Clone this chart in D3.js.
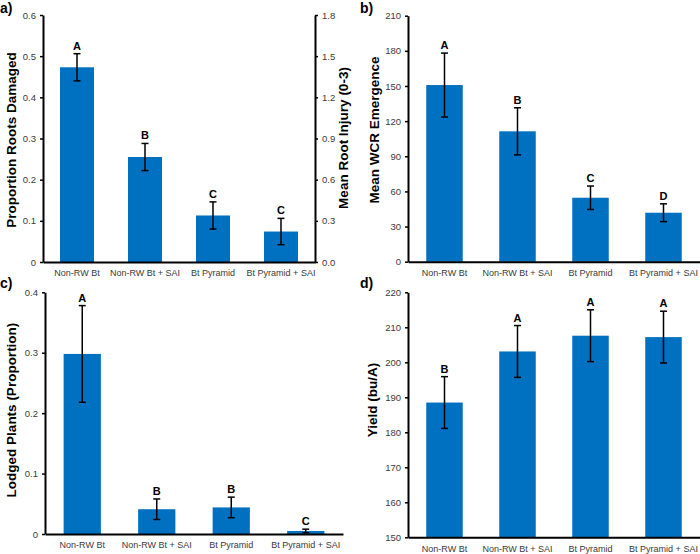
<!DOCTYPE html>
<html>
<head>
<meta charset="utf-8">
<script src="https://cdn.jsdelivr.net/npm/d3@7"></script>
<style>
  html, body { margin: 0; padding: 0; background: #fff; }
  svg { display: block; }
  text { font-family: "Liberation Sans", Arial, Helvetica, sans-serif; }
</style>
</head>
<body>
<svg id="chart" width="700" height="554"></svg>
<script>
// ---- Data ----
const categories = ["Non-RW Bt", "Non-RW Bt + SAI", "Bt Pyramid", "Bt Pyramid + SAI"];

const rootsDamaged = [0.473, 0.255, 0.113, 0.074];
const rootsDamagedErr = [0.033, 0.033, 0.033, 0.032];
const rootsLetters = ["A", "B", "C", "C"];
const rootsTicks = [0, 0.1, 0.2, 0.3, 0.4, 0.5, 0.6];
const injuryTicks = [0, 0.3, 0.6, 0.9, 1.2, 1.5, 1.8];

const emergence = [150.8, 111.3, 54.6, 41.8];
const emergenceErr = [27.3, 20.1, 10.0, 7.6];
const emergenceLetters = ["A", "B", "C", "D"];
const emergenceTicks = [0, 30, 60, 90, 120, 150, 180, 210];

const lodged = [0.298, 0.041, 0.044, 0.005];
const lodgedErr = [0.080, 0.017, 0.017, 0.003];
const lodgedLetters = ["A", "B", "B", "C"];
const lodgedTicks = [0, 0.1, 0.2, 0.3, 0.4];

const yieldVals = [188.5, 203.1, 207.6, 207.2];
const yieldErr = [7.4, 7.4, 7.4, 7.4];
const yieldLetters = ["B", "A", "A", "A"];
const yieldTicks = [150, 160, 170, 180, 190, 200, 210, 220];

// ---- Drawing ----
const svg = d3.select("#chart");
const BAR = "#0070C0";
const TICKCOL = "#3a3a3a";
const FONT = "Liberation Sans, Arial, sans-serif";

function panel(cfg) {
  const g = svg.append("g");
  const x = d3.scaleBand().domain(categories).range([cfg.x0, cfg.x1])
    .paddingInner(0.5).paddingOuter(0.25);
  const y = d3.scaleLinear().domain(cfg.domain).range([cfg.yb, cfg.yt]);

  g.selectAll("rect.bar").data(cfg.values).join("rect")
    .attr("x", (d, i) => x(categories[i]))
    .attr("width", x.bandwidth())
    .attr("y", d => y(d))
    .attr("height", d => y(cfg.domain[0]) - y(d))
    .attr("fill", BAR);

  const cap = 3.5;
  cfg.values.forEach((v, i) => {
    const cx = x(categories[i]) + x.bandwidth() / 2;
    const hi = y(v + cfg.err[i]), lo = y(Math.max(cfg.domain[0], v - cfg.err[i]));
    g.append("line").attr("x1", cx).attr("x2", cx).attr("y1", hi).attr("y2", lo)
      .attr("stroke", "#000").attr("stroke-width", 1.5);
    [hi, lo].forEach(yy => g.append("line").attr("x1", cx - cap).attr("x2", cx + cap)
      .attr("y1", yy).attr("y2", yy).attr("stroke", "#000").attr("stroke-width", 1.5));
    g.append("text").attr("x", cx).attr("y", hi - 4)
      .attr("text-anchor", "middle").attr("font-size", 11).attr("font-weight", "bold")
      .attr("fill", "#000").text(cfg.letters[i]);
  });

  const ya = g.append("g").attr("transform", `translate(${cfg.x0},0)`)
    .call(d3.axisLeft(y).tickValues(cfg.ticks).tickFormat(cfg.fmt).tickSize(3).tickSizeOuter(0).tickPadding(4));
  ya.select(".domain").attr("stroke-width", 2);
  ya.selectAll(".tick line").attr("stroke-width", 1.5);
  ya.selectAll("text").attr("font-size", 9.5).attr("fill", TICKCOL).attr("font-family", FONT);

  const xa = g.append("g").attr("transform", `translate(0,${cfg.yb})`)
    .call(d3.axisBottom(x).tickSize(0).tickSizeOuter(0).tickPadding(8));
  xa.select(".domain").attr("stroke-width", 2);
  xa.selectAll("text").attr("font-size", 9).attr("fill", TICKCOL).attr("font-family", FONT);

  g.append("text")
    .attr("transform", `translate(${cfg.titleX},${cfg.titleY}) rotate(-90)`)
    .attr("text-anchor", "middle").attr("font-size", 13.5).attr("font-weight", "bold")
    .attr("fill", "#000").text(cfg.title);

  g.append("text").attr("x", cfg.labX).attr("y", cfg.labY)
    .attr("font-size", 14).attr("font-weight", "bold").attr("fill", "#000").text(cfg.label);

  return { g, x, y };
}

const pa = panel({
  x0: 43, x1: 315, yt: 15, yb: 262, domain: [0, 0.6],
  values: rootsDamaged, err: rootsDamagedErr, letters: rootsLetters,
  ticks: rootsTicks, fmt: d => d === 0 ? "0" : d3.format(".1f")(d),
  title: "Proportion Roots Damaged", titleX: 16, titleY: 140,
  label: "a)", labX: 0, labY: 13
});
{
  const y2 = d3.scaleLinear().domain([0, 1.8]).range([262, 15]);
  const ra = pa.g.append("g").attr("transform", "translate(315,0)")
    .call(d3.axisRight(y2).tickValues(injuryTicks).tickFormat(d3.format(".1f")).tickSize(3).tickSizeOuter(0).tickPadding(4));
  ra.select(".domain").attr("stroke-width", 2);
  ra.selectAll(".tick line").attr("stroke-width", 1.5);
  ra.selectAll("text").attr("font-size", 9.5).attr("fill", TICKCOL).attr("font-family", FONT);
  pa.g.append("text")
    .attr("transform", "translate(348,138) rotate(-90)")
    .attr("text-anchor", "middle").attr("font-size", 13.5).attr("font-weight", "bold")
    .attr("fill", "#000").text("Mean Root Injury (0-3)");
}

panel({
  x0: 408, x1: 700, yt: 15.7, yb: 261.7, domain: [0, 210],
  values: emergence, err: emergenceErr, letters: emergenceLetters,
  ticks: emergenceTicks, fmt: d3.format("d"),
  title: "Mean WCR Emergence", titleX: 379, titleY: 130,
  label: "b)", labX: 360, labY: 13
});

panel({
  x0: 45, x1: 343, yt: 292.3, yb: 534, domain: [0, 0.4],
  values: lodged, err: lodgedErr, letters: lodgedLetters,
  ticks: lodgedTicks, fmt: d => d === 0 ? "0" : d3.format(".1f")(d),
  title: "Lodged Plants (Proportion)", titleX: 16, titleY: 410,
  label: "c)", labX: 0, labY: 288
});

panel({
  x0: 408, x1: 700, yt: 292.3, yb: 537.3, domain: [150, 220],
  values: yieldVals, err: yieldErr, letters: yieldLetters,
  ticks: yieldTicks, fmt: d3.format("d"),
  title: "Yield (bu/A)", titleX: 377, titleY: 400,
  label: "d)", labX: 360, labY: 288
});
</script>
</body>
</html>
